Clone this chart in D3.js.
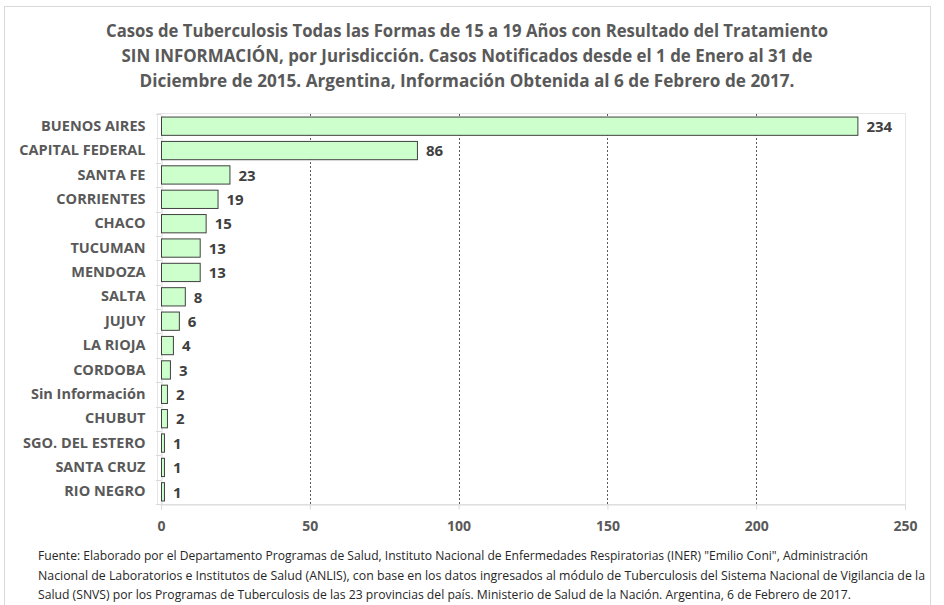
<!DOCTYPE html>
<html>
<head>
<meta charset="utf-8">
<script src="https://cdn.jsdelivr.net/npm/d3@7"></script>
<style>
  body { margin: 0; background: #fff; }
  text { font-family: "Open Sans", "Noto Sans", sans-serif; }
</style>
</head>
<body>
<script>
const categories = ["BUENOS AIRES", "CAPITAL FEDERAL", "SANTA FE", "CORRIENTES", "CHACO", "TUCUMAN",
  "MENDOZA", "SALTA", "JUJUY", "LA RIOJA", "CORDOBA", "Sin Información", "CHUBUT",
  "SGO. DEL ESTERO", "SANTA CRUZ", "RIO NEGRO"];
const values = [234, 86, 23, 19, 15, 13, 13, 8, 6, 4, 3, 2, 2, 1, 1, 1];
const xTicks = [0, 50, 100, 150, 200, 250];
const titleLines = [
  "Casos de Tuberculosis Todas las Formas de 15 a 19 Años con Resultado del Tratamiento",
  "SIN INFORMACIÓN, por Jurisdicción. Casos Notificados desde el 1 de Enero al 31 de",
  "Diciembre de 2015. Argentina, Información Obtenida al 6 de Febrero de 2017."
];
const footerLines = [
  "Fuente: Elaborado por el Departamento Programas de Salud, Instituto Nacional de Enfermedades Respiratorias (INER) \"Emilio Coni\", Administración",
  "Nacional de Laboratorios e Institutos de Salud (ANLIS), con base en los datos ingresados al módulo de Tuberculosis del Sistema Nacional de Vigilancia de la",
  "Salud (SNVS) por los Programas de Tuberculosis de las 23 provincias del país. Ministerio de Salud de la Nación. Argentina,  6 de Febrero de 2017."
];

const width = 944, height = 605;
const plot = { left: 161, right: 905, top: 114, bottom: 504 };

const svg = d3.select('body').append('svg')
  .attr('width', width)
  .attr('height', height);

// outer frame
svg.append('rect')
  .attr('x', 4.5).attr('y', 6.5)
  .attr('width', 926).attr('height', 610)
  .attr('fill', 'none')
  .attr('stroke', '#d9d9d9');

// title
const titleWidths = [722, 691, 655];
svg.append('g').selectAll('text')
  .data(titleLines)
  .join('text')
  .attr('x', 467)
  .attr('y', (d, i) => 37 + i * 25)
  .attr('text-anchor', 'middle')
  .attr('textLength', (d, i) => titleWidths[i])
  .attr('lengthAdjust', 'spacingAndGlyphs')
  .style('font-size', '17px')
  .style('font-weight', 'bold')
  .style('fill', '#595959')
  .text(d => d);

const x = d3.scaleLinear()
  .domain([0, 250])
  .range([plot.left, plot.right]);

const y = d3.scaleBand()
  .domain(categories)
  .range([plot.top, plot.bottom])
  .paddingInner(0.25)
  .paddingOuter(0.125);

// plot border
svg.append('rect')
  .attr('x', plot.left - 4 + 0.5).attr('y', plot.top - 1 + 0.5)
  .attr('width', plot.right - plot.left + 4).attr('height', plot.bottom - plot.top + 1)
  .attr('fill', 'none')
  .attr('stroke', '#e6e6e6');

// gridlines
svg.append('g').selectAll('line')
  .data(xTicks.slice(1, -1))
  .join('line')
  .attr('x1', d => Math.round(x(d)) + 0.5)
  .attr('x2', d => Math.round(x(d)) + 0.5)
  .attr('y1', plot.top)
  .attr('y2', plot.bottom)
  .attr('stroke', '#595959')
  .attr('stroke-dasharray', '2,2');

// x axis
const xAxis = svg.append('g')
  .attr('transform', `translate(0, ${plot.bottom + 0.5})`)
  .call(d3.axisBottom(x).tickValues(xTicks).tickSize(5).tickPadding(12));
xAxis.select('.domain').attr('stroke', '#d9d9d9');
xAxis.selectAll('.tick line').attr('stroke', '#d9d9d9');
xAxis.selectAll('.tick text')
  .style('font-size', '14px')
  .style('font-weight', 'bold')
  .style('fill', '#595959');

// y axis
const yAxis = svg.append('g')
  .attr('transform', `translate(${plot.left + 0.5}, 0)`)
  .call(d3.axisLeft(y).tickSize(0).tickPadding(16));
yAxis.select('.domain').attr('stroke', '#d9d9d9');
yAxis.selectAll('.tick text')
  .style('font-size', '14.5px')
  .style('font-weight', 'bold')
  .style('fill', '#595959');

// category separator ticks
const step = y.step();
svg.append('g').selectAll('line')
  .data(d3.range(categories.length + 1))
  .join('line')
  .attr('x1', plot.left - 5)
  .attr('x2', plot.left)
  .attr('y1', i => Math.round(plot.top + i * step) + 0.5)
  .attr('y2', i => Math.round(plot.top + i * step) + 0.5)
  .attr('stroke', '#d9d9d9');

// bars
svg.append('g').selectAll('rect')
  .data(values)
  .join('rect')
  .attr('x', x(0) + 0.5)
  .attr('y', (d, i) => y(categories[i]))
  .attr('width', d => x(d) - x(0))
  .attr('height', y.bandwidth())
  .attr('fill', '#ccffcc')
  .attr('stroke', '#404040')
  .attr('stroke-width', 1);

// value labels
svg.append('g').selectAll('text')
  .data(values)
  .join('text')
  .attr('x', d => x(d) + 9)
  .attr('y', (d, i) => y(categories[i]) + y.bandwidth() / 2)
  .attr('dy', '0.38em')
  .style('font-size', '15px')
  .style('font-weight', 'bold')
  .style('fill', '#404040')
  .text(d => d);

// footer
const footerWidths = [830, 887, 813];
svg.append('g').selectAll('text')
  .data(footerLines)
  .join('text')
  .attr('x', 38)
  .attr('y', (d, i) => 560 + i * 19.5)
  .attr('textLength', (d, i) => footerWidths[i])
  .attr('lengthAdjust', 'spacingAndGlyphs')
  .style('font-size', '12px')
  .style('fill', '#262626')
  .text(d => d);
</script>
</body>
</html>
